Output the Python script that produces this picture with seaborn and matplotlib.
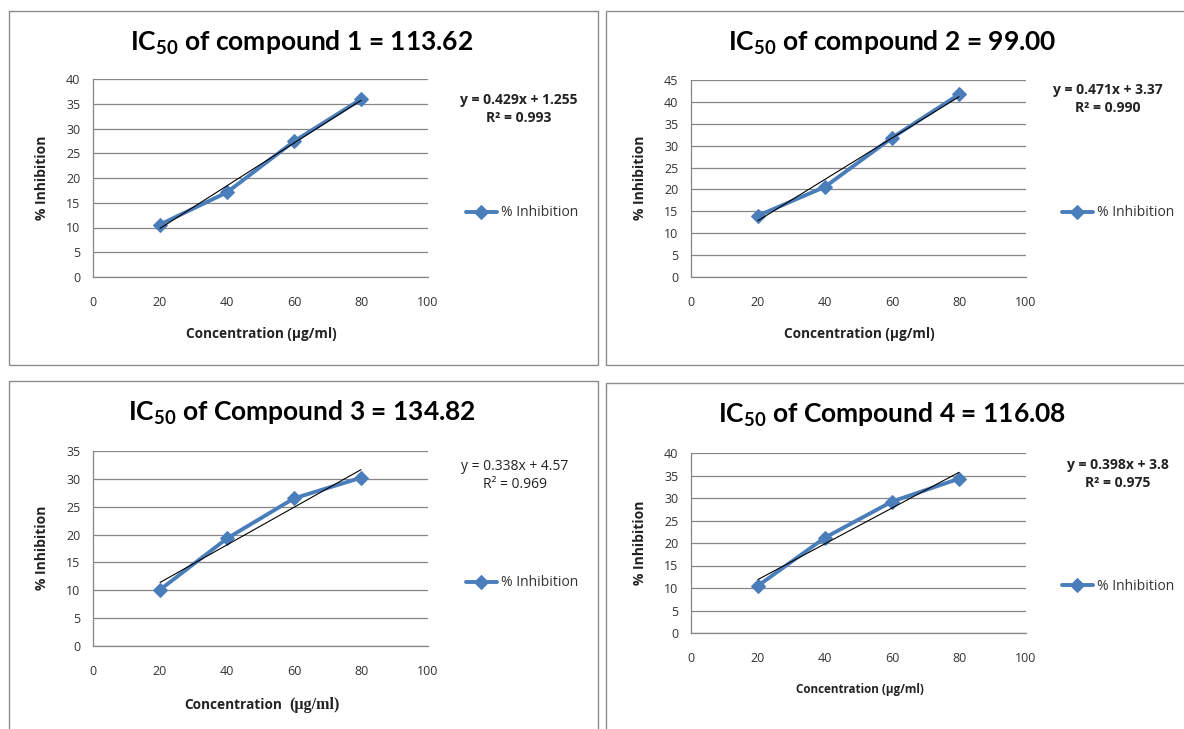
import numpy as np
import pandas as pd
import matplotlib
matplotlib.use("Agg")
import matplotlib.pyplot as plt
import seaborn as sns
from matplotlib.patches import Rectangle

# data
conc = [20, 40, 60, 80]
inhib_1 = [10.6, 17.1, 27.4, 35.9]
inhib_2 = [14.0, 20.6, 31.8, 41.7]
inhib_3 = [10.1, 19.3, 26.5, 30.2]
inhib_4 = [10.5, 21.2, 29.2, 34.3]

titles = [r"IC$_{\mathbf{50}}$ of compound 1 = 113.62",
          r"IC$_{\mathbf{50}}$ of compound 2 = 99.00",
          r"IC$_{\mathbf{50}}$ of Compound 3 = 134.82",
          r"IC$_{\mathbf{50}}$ of Compound 4 = 116.08"]
equations = ["y = 0.429x + 1.255", "y = 0.471x + 3.37", "y = 0.338x + 4.57", "y = 0.398x + 3.8"]
r_squared = ["R\u00b2 = 0.993", "R\u00b2 = 0.990", "R\u00b2 = 0.969", "R\u00b2 = 0.975"]
y_max = [40, 45, 35, 40]
x_ticks = [0, 20, 40, 60, 80, 100]

W, H = 1184, 729
sns.set_style("white")
plt.rcParams["font.family"] = ["Open Sans", "DejaVu Sans"]
plt.rcParams["mathtext.fontset"] = "custom"
plt.rcParams["mathtext.rm"] = "Lato"
plt.rcParams["mathtext.bf"] = "Lato:bold"

fig = plt.figure(figsize=(W / 100, H / 100), dpi=100)


def fx(x):
    return x / W


def fy(y):
    return 1 - y / H


# pixel layout of each panel: box, plot area, title, equation, legend, labels
layout = [
    dict(box=(9, 11, 598, 365), ax=(93, 79, 428, 277), title=(302, 43), eq=(519, 100),
         leg=(466, 213), xl=(261, 334), yl=(42, 178)),
    dict(box=(606, 11, 1190, 365), ax=(691, 80, 1026, 277), title=(892, 43), eq=(1108, 90),
         leg=(1062, 213), xl=(859, 334), yl=(640, 178)),
    dict(box=(9, 381, 598, 740), ax=(93, 451, 428, 646), title=(302, 413), eq=(515, 467),
         leg=(466, 583), xl=(285, 705), yl=(42, 548)),
    dict(box=(606, 383, 1190, 740), ax=(691, 453, 1026, 633), title=(892, 415), eq=(1118, 465),
         leg=(1062, 586), xl=(860, 689), yl=(640, 543)),
]

series = [inhib_1, inhib_2, inhib_3, inhib_4]
blue = "#4A7EBB"

for i, (vals, lay) in enumerate(zip(series, layout)):
    bx0, by0, bx1, by1 = lay["box"]
    fig.patches.append(Rectangle((fx(bx0), fy(by1)), fx(bx1 - bx0), (by1 - by0) / H,
                                 transform=fig.transFigure, fill=False,
                                 edgecolor="#8c8c8c", linewidth=1))
    ax0, ay0, ax1, ay1 = lay["ax"]
    ax = fig.add_axes([fx(ax0), fy(ay1), fx(ax1 - ax0), (ay1 - ay0) / H])
    df = pd.DataFrame({"conc": conc, "inhib": vals})

    sns.regplot(data=df, x="conc", y="inhib", ax=ax, scatter=False, ci=None, truncate=True,
                line_kws=dict(color="black", lw=0.8, zorder=4))
    sns.lineplot(data=df, x="conc", y="inhib", ax=ax, color=blue, lw=2.8, marker="D",
                 markersize=7, markeredgecolor=blue, label="% Inhibition", zorder=3)

    ax.set_xlim(0, 100)
    ax.set_ylim(0, y_max[i])
    ax.set_xticks(x_ticks)
    ax.set_yticks(np.arange(0, y_max[i] + 1, 5))
    ax.yaxis.grid(True, color="#868686", lw=0.9)
    ax.set_axisbelow(True)
    for s in ["top", "right"]:
        ax.spines[s].set_visible(False)
    for s in ["left", "bottom"]:
        ax.spines[s].set_color("#868686")
        ax.spines[s].set_linewidth(0.9)
    ax.tick_params(axis="both", which="major", direction="out", length=4, width=0.9,
                   color="#868686", labelsize=9, labelcolor="#333333")
    ax.tick_params(axis="x", pad=10)
    ax.tick_params(axis="y", pad=5)
    ax.set_xlabel("")
    ax.set_ylabel("")

    ax.legend(loc="center left", bbox_to_anchor=(fx(lay["leg"][0]), fy(lay["leg"][1])),
              bbox_transform=fig.transFigure, frameon=False, fontsize=10,
              handlelength=2.2, handletextpad=0.3, borderpad=0, borderaxespad=0,
              labelcolor="#333333")

    fig.text(fx(lay["title"][0]), fy(lay["title"][1]), titles[i], ha="center", va="center",
             fontsize=19, fontweight="bold", color="black", family="Lato")
    ex, ey = lay["eq"]
    eq_weight = "normal" if i == 2 else "bold"
    fig.text(fx(ex), fy(ey), equations[i], ha="center", va="center", fontsize=10,
             fontweight=eq_weight, color="#222222")
    fig.text(fx(ex), fy(ey + 18), r_squared[i], ha="center", va="center", fontsize=10,
             fontweight=eq_weight, color="#222222")

    fig.text(fx(lay["yl"][0]), fy(lay["yl"][1]), "% Inhibition", rotation=90, ha="center",
             va="center", fontsize=10, fontweight="bold", color="#222222")
    xlx, xly = lay["xl"]
    if i == 2:
        fig.text(fx(xlx - 3), fy(xly), "Concentration", ha="right", va="center",
                 fontsize=9.8, fontweight="bold", color="#222222")
        fig.text(fx(xlx + 4), fy(xly), "(\u00b5g/ml)", ha="left", va="center", fontsize=11.5,
                 fontweight="bold", family="Liberation Serif", color="#222222")
    elif i == 3:
        fig.text(fx(xlx), fy(xly), "Concentration (\u00b5g/ml)", ha="center", va="center",
                 fontsize=8.4, fontweight="bold", color="#222222")
    else:
        fig.text(fx(xlx), fy(xly), "Concentration (\u00b5g/ml)", ha="center", va="center",
                 fontsize=9.8, fontweight="bold", color="#222222")

fig.savefig("out.png", dpi=100, facecolor="white")
